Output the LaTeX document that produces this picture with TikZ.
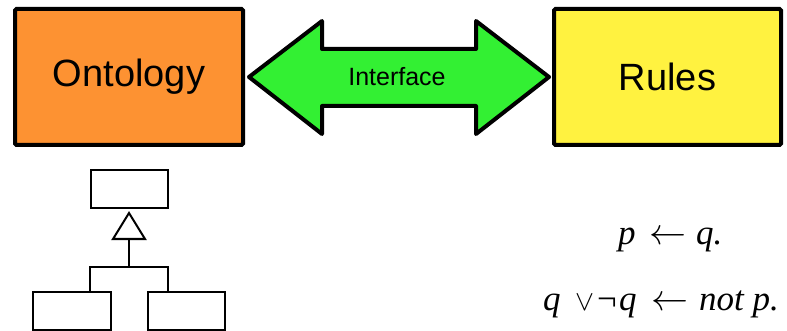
\documentclass[tikz,border=0pt]{standalone}
\usepackage{graphicx}
\usepackage{fontspec}
\setmainfont{Liberation Sans}
\newfontfamily\tmsfont{Liberation Serif}
\definecolor{ontoorange}{RGB}{253,146,50}
\definecolor{rulesyellow}{RGB}{255,242,64}
\definecolor{ifgreen}{RGB}{51,240,51}
\newcommand{\larrow}{\resizebox{37pt}{!}{$\leftarrow$}}
\newcommand{\orsym}{\resizebox{19pt}{!}{$\vee$}}
\tikzset{
  bigbox/.style={draw=black, line width=4pt, rounded corners=1.5pt, inner sep=0pt, font=\fontsize{38}{38}\selectfont},
  umlbox/.style={draw=black, line width=2pt, inner sep=0pt, minimum height=38pt},
  umlline/.style={draw=black, line width=2pt},
  formula/.style={anchor=base west, inner sep=0pt, font=\tmsfont\itshape\fontsize{35}{35}\selectfont}
}
\begin{document}
\begin{tikzpicture}[x=1pt,y=-1pt]
\useasboundingbox (0,0) rectangle (787,331);
% main boxes
\node[bigbox, fill=ontoorange, minimum width=228pt, minimum height=136pt] (onto) at (129,77) {Ontology};
\node[bigbox, fill=rulesyellow, minimum width=227pt, minimum height=136pt] (rules) at (667.5,77) {Rules};
% double arrow
\draw[line width=4pt, line join=round, fill=ifgreen]
  (249,77) -- (322,21) -- (322,49) -- (476,49) -- (476,21) -- (549,77)
  -- (476,134) -- (476,106) -- (322,106) -- (322,134) -- cycle;
\node[inner sep=0pt, font=\fontsize{25}{25}\selectfont] (iface) at (397,77) {Interface};
% UML
\node[umlbox, minimum width=77pt] (top) at (129.5,189) {};
\node[umlbox, minimum width=78pt] (lb) at (72,311) {};
\node[umlbox, minimum width=77pt] (rb) at (186.5,311) {};
\coordinate (apex) at (129,213);
\coordinate (tribase) at (129,239);
\coordinate (j) at (129,267);
\draw[umlline, line join=miter] (apex) -- (145,239) -- (113,239) -- cycle;
\draw[umlline] (tribase) -- (j);
\draw[umlline] ([xshift=18pt]lb.north) |- (j) -| ([xshift=-18.5pt]rb.north);
% formulas
\node[formula] (f1) at (618,244) {\makebox[31pt][l]{p}\makebox[47pt][l]{\larrow}q.};
\node[formula] (f2) at (543,310) {\makebox[32pt][l]{q}\makebox[22pt][l]{\orsym}\makebox[22pt][l]{\upshape¬}\makebox[32pt][l]{q}\makebox[48pt][l]{\larrow}not p.};
\end{tikzpicture}
\end{document}
